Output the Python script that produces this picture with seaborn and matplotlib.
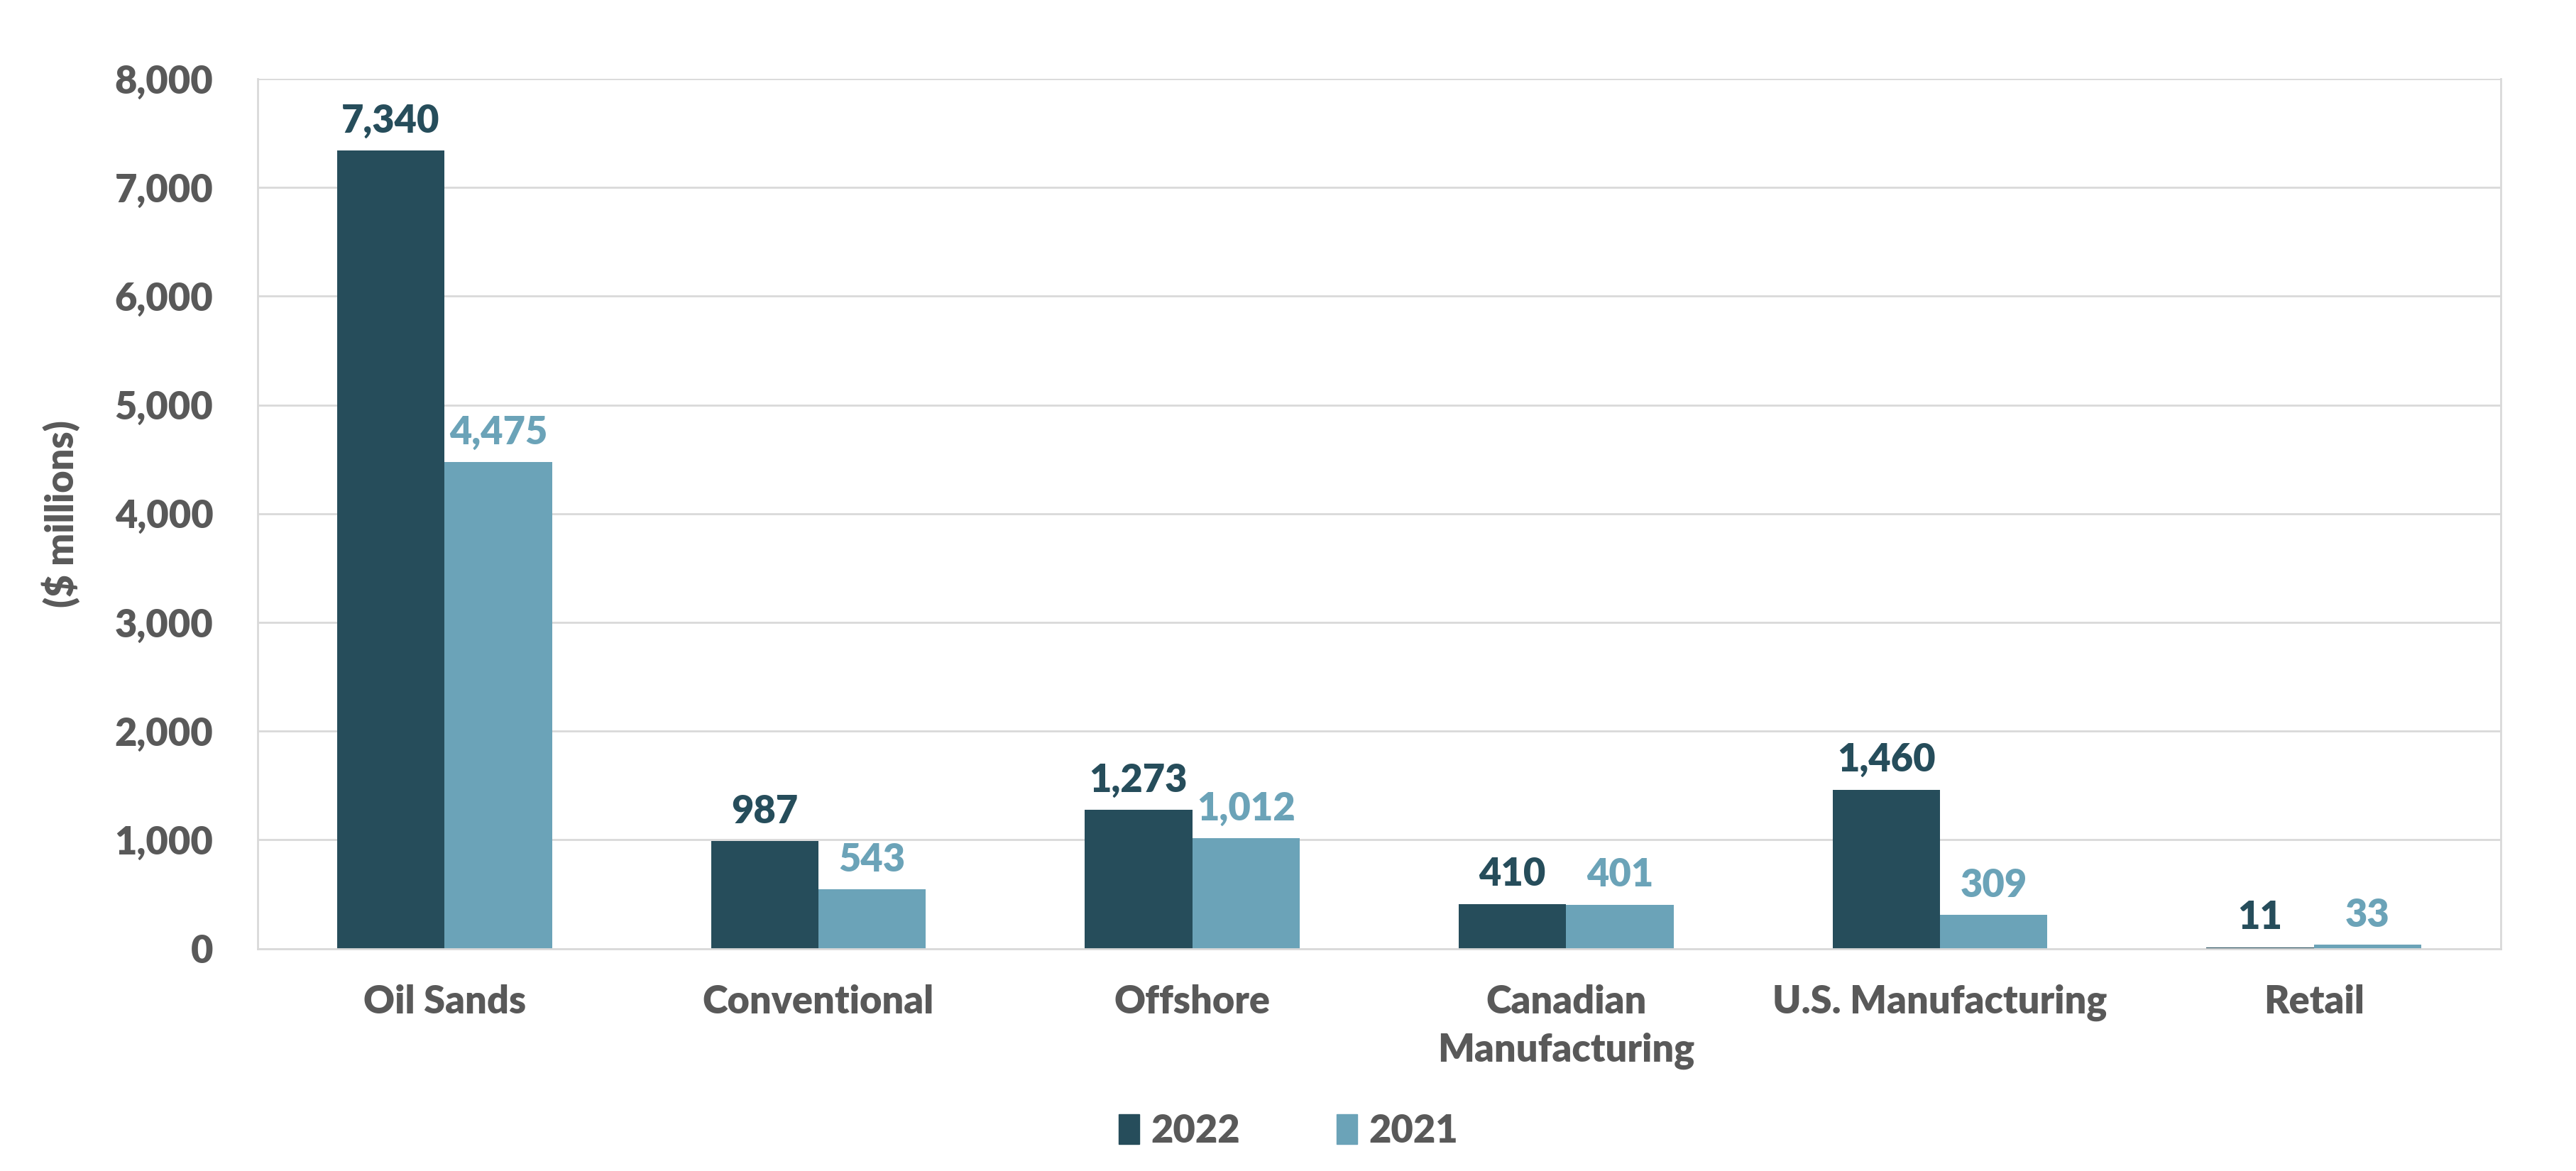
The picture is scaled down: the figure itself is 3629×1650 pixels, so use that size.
import matplotlib
matplotlib.use("Agg")
import matplotlib.pyplot as plt
import matplotlib.patches as mpatches
from matplotlib.ticker import FuncFormatter, FixedLocator
import pandas as pd
import seaborn as sns

categories = ["Oil Sands", "Conventional", "Offshore", "Canadian\nManufacturing",
              "U.S. Manufacturing", "Retail"]
values_2022 = [7340, 987, 1273, 410, 1460, 11]
values_2021 = [4475, 543, 1012, 401, 309, 33]
years = ["2022", "2021"]
y_ticks = [0, 1000, 2000, 3000, 4000, 5000, 6000, 7000, 8000]

dark = "#264D5B"
light = "#6BA3B8"
grey_text = "#595959"
grid_col = "#D9D9D9"
fs = 39
wt = "heavy"

df = pd.DataFrame({
    "segment": categories * 2,
    "year": ["2022"] * len(categories) + ["2021"] * len(categories),
    "value": values_2022 + values_2021,
})

sns.set_theme(style="white")
plt.rcParams["font.family"] = ["Lato", "DejaVu Sans"]
plt.rcParams["font.weight"] = wt

fig = plt.figure(figsize=(36.3, 16.5), dpi=100)
ax = fig.add_axes([0.100, 0.190, 0.8705, 0.7427])

sns.barplot(data=df, x="segment", y="value", hue="year", hue_order=years,
            palette=[dark, light], width=0.575, saturation=1, ax=ax,
            legend=False, errorbar=None, linewidth=0)

for cont, col in zip(ax.containers, [dark, light]):
    ax.bar_label(cont, labels=[f"{v:,.0f}" for v in cont.datavalues],
                 color=col, fontsize=fs, fontweight=wt, padding=12)

ax.set_ylim(0, 8000)
ax.set_xlim(-0.5, len(categories) - 0.5)
ax.set_yticks(y_ticks)
ax.yaxis.set_major_formatter(FuncFormatter(lambda v, p: f"{v:,.0f}"))
ax.grid(axis="y", color=grid_col, linewidth=2)
ax.set_axisbelow(True)

ax.tick_params(axis="y", length=0, pad=45, labelsize=fs, labelcolor=grey_text)
ax.tick_params(axis="x", which="major", length=0, pad=36, labelsize=fs,
               labelcolor=grey_text)
ax.xaxis.set_minor_locator(FixedLocator([i + 0.5 for i in range(-1, len(categories))]))
ax.tick_params(axis="x", which="minor", length=14, width=1.5, color=grid_col)
for lab in ax.get_xticklabels() + ax.get_yticklabels():
    lab.set_fontweight(wt)
for lab in ax.get_xticklabels():
    lab.set_linespacing(1.45)

ax.set_xlabel("")
ax.set_ylabel("($ millions)", fontsize=fs, fontweight=wt, color=grey_text,
              labelpad=35)

for side in ["left", "right", "bottom"]:
    ax.spines[side].set_color(grid_col)
    ax.spines[side].set_linewidth(2)
ax.spines["top"].set_visible(False)

handles = [mpatches.Patch(color=dark, label="2022"),
           mpatches.Patch(color=light, label="2021")]
fig.legend(handles=handles, loc="center", bbox_to_anchor=(0.5, 0.034), ncol=2,
           frameon=False, labelcolor=grey_text, handlelength=0.55,
           handleheight=0.8, handletextpad=0.3, columnspacing=2.5,
           prop={"weight": wt, "size": fs})

fig.savefig("out.png", dpi=100)
